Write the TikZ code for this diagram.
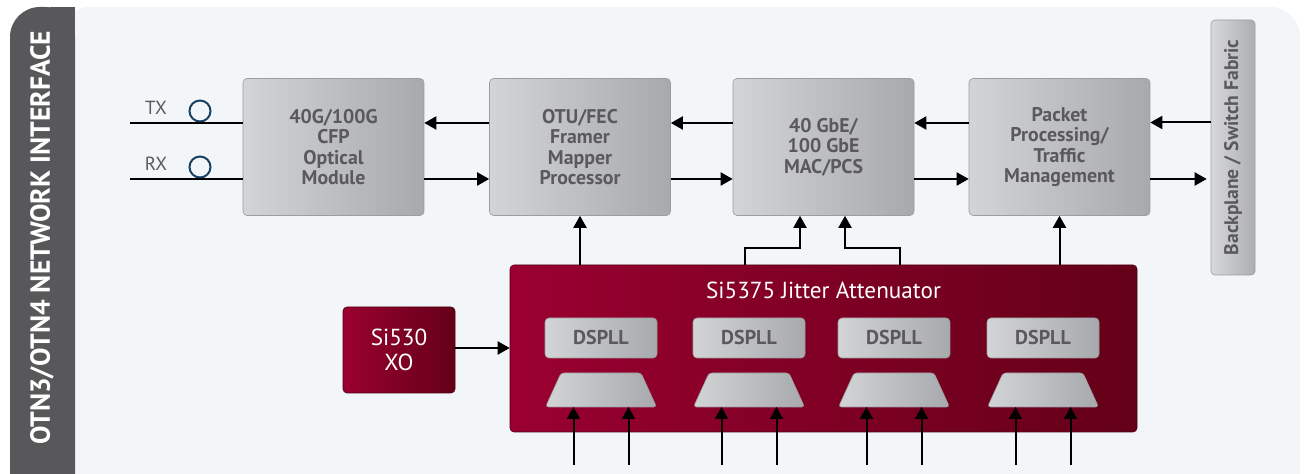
\documentclass[tikz,border=0pt]{standalone}
\usepackage{fontspec}
\setmainfont{PT Sans}
\usetikzlibrary{arrows.meta}

\definecolor{panel}{HTML}{F2F6F9}
\definecolor{band}{HTML}{58585A}
\definecolor{boxL}{HTML}{D3D4D6}
\definecolor{boxR}{HTML}{A8A9AC}
\definecolor{boxE}{HTML}{9C9DA0}
\definecolor{txtgray}{HTML}{5A5A5C}
\definecolor{redL}{HTML}{9A0030}
\definecolor{redR}{HTML}{640018}
\definecolor{ring}{HTML}{1B3F61}

\begin{document}
\begin{tikzpicture}[x=0.5pt,y=-0.5pt,
  blk/.style={rounded corners=2pt,left color=boxL,right color=boxR,draw=boxE,line width=0.3pt,
    text=txtgray,font=\bfseries\fontsize{9.9}{10.25}\selectfont,align=center,inner sep=0pt,
    minimum width=90.5pt,minimum height=68.5pt},
  redblk/.style={rounded corners=2pt,left color=redL,right color=redR,draw=redR!80!black,line width=0.3pt,
    text=white,inner sep=0pt},
  pll/.style={rounded corners=2pt,left color=boxL,right color=boxR,draw=boxE,line width=0.3pt,
    text=txtgray,font=\bfseries\fontsize{10}{10}\selectfont,inner sep=0pt,
    minimum width=56pt,minimum height=20pt},
  mux/.style={rounded corners=1.5pt,left color=boxL,right color=boxR,draw=boxE,line width=0.3pt},
  arr/.style={-{Triangle[length=6pt,width=6.5pt]},line width=1pt},
  ln/.style={line width=1pt}]

\clip (0,0) rectangle (1305,474);
\fill[white] (0,0) rectangle (1305,474);
\fill[panel,rounded corners=15pt] (60,7) rectangle (1300,520);
\fill[band,rounded corners=15pt] (10,7) rectangle (75,520);
\fill[band] (50,7) rectangle (75,474);

\node[rotate=90,text=white,font=\bfseries\fontsize{13.8}{15}\selectfont] (title) at (42,238) {OTN3/OTN4 NETWORK INTERFACE};

\node[blk] (cfp) at (333.5,147) {40G/100G\\CFP\\Optical\\Module};
\node[blk] (otu) at (580,147) {OTU/FEC\\Framer\\Mapper\\Processor};
\node[blk] (mac) at (823.5,147) {40 GbE/\\100 GbE\\MAC/PCS};
\node[blk] (pkt) at (1059.5,147) {Packet\\Processing/\\Traffic\\Management};
\node[blk,minimum width=22pt,minimum height=127.5pt,left color=boxL!90!white,right color=boxR!95!white] (bp) at (1233,147.5) {};
\node[rotate=90,text=txtgray,font=\bfseries\fontsize{9.8}{10}\selectfont] at (bp) {Backplane / Switch Fabric};

\node[text=txtgray,font=\fontsize{9.5}{10}\selectfont] (txl) at (156,108) {TX};
\node[text=txtgray,font=\fontsize{9.5}{10}\selectfont] (rxl) at (156,164) {RX};
\node[circle,draw=ring,line width=1pt,minimum size=10.5pt,inner sep=0pt] (txc) at (200,111) {};
\node[circle,draw=ring,line width=1pt,minimum size=10.5pt,inner sep=0pt] (rxc) at (200,167) {};
\coordinate (tx) at (130,123);
\coordinate (rx) at (130,179);
\draw[ln] (tx) -- (tx -| cfp.west);
\draw[ln] (rx) -- (rx -| cfp.west);

\draw[arr] ([yshift=12pt]otu.west) -- ([yshift=12pt]cfp.east);
\draw[arr] ([yshift=12pt]mac.west) -- ([yshift=12pt]otu.east);
\draw[arr] ([yshift=12pt]pkt.west) -- ([yshift=12pt]mac.east);
\draw[arr] ([yshift=12.5pt]bp.west) -- ([yshift=12.5pt]bp.west -| pkt.east);
\draw[arr] ([yshift=-16pt]cfp.east) -- ([yshift=-16pt]otu.west);
\draw[arr] ([yshift=-16pt]otu.east) -- ([yshift=-16pt]mac.west);
\draw[arr] ([yshift=-16pt]mac.east) -- ([yshift=-16pt]pkt.west);
\draw[arr,shorten >=2pt] ([yshift=-16pt]pkt.east) -- ([yshift=-16pt]pkt.east -| bp.west);

\node[redblk,minimum width=313.5pt,minimum height=83.5pt] (jit) at (823.5,348.5) {};
\node[text=white,font=\fontsize{11.6}{12}\selectfont] (jitl) at (823.5,290) {Si5375 Jitter Attenuator};
\node[redblk,align=center,font=\fontsize{11.6}{12.5}\selectfont,minimum width=56pt,minimum height=43pt] (xo) at (399,350) {Si530\\XO};
\coordinate (xoin) at (455,348);
\draw[arr] (xoin) -- (xoin -| jit.west);

\draw[arr] (otu.south |- jit.north) -- (otu.south);
\draw[arr] (pkt.south |- jit.north) -- (pkt.south);
\draw[arr] ([xshift=-39.25pt]jit.north) -- ++(0,-17) -| ([xshift=-11.75pt]mac.south);
\draw[arr] ([xshift=38.25pt]jit.north) -- ++(0,-17) -| ([xshift=10.75pt]mac.south);

\foreach \i/\x in {1/601,2/749,3/894,4/1043} {
  \node[pll] (p\i) at (\x,338) {DSPLL};
  \path[mux] (\x-55.5,407) -- (\x-40,373) -- (\x+40,373) -- (\x+55.5,407) -- cycle;
  \coordinate (m\i) at (\x,407);
  \coordinate (a\i) at (\x-27.5,465);
  \coordinate (b\i) at (\x+27.5,465);
  \draw[arr] (a\i) -- (a\i |- m\i);
  \draw[arr] (b\i) -- (b\i |- m\i);
}

\end{tikzpicture}
\end{document}
